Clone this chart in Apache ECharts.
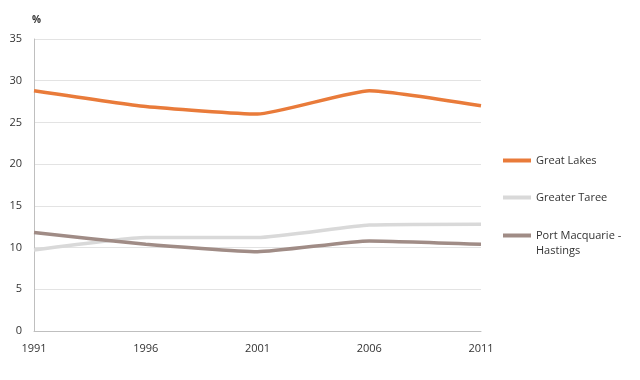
<!DOCTYPE html>
<html><head><meta charset="utf-8">
<script src="https://cdn.jsdelivr.net/npm/echarts@6/dist/echarts.min.js"></script>
<style>html,body{margin:0;padding:0;background:#fff}#c{width:640px;height:380px}</style>
</head><body><div id="c"></div>
<script>
const years = ['1991','1996','2001','2006','2011'];
const greatLakes = [28.8, 26.9, 26.0, 28.8, 27.0];
const greaterTaree = [9.7, 11.2, 11.2, 12.7, 12.8];
const portMacquarie = [11.8, 10.4, 9.5, 10.8, 10.4];
const seriesNames = ['Great Lakes', 'Greater Taree', 'Port Macquarie - Hastings'];
const colors = ['#E97B3A', '#D9D9D9', '#A08C86'];

const font = 'Open Sans';
const txt = '#333333';
const chart = echarts.init(document.getElementById('c'));
const mkLegend = (i, top, extra) => Object.assign({
  data: [seriesNames[i]], left: 498, top: top, orient: 'vertical',
  icon: 'rect', itemWidth: 28, itemHeight: 4, itemGap: 2,
  textStyle: { fontFamily: font, fontSize: 11, color: txt }
}, extra || {});
chart.setOption({
  animation: false,
  color: colors,
  legend: [
    mkLegend(0, 150),
    mkLegend(1, 187),
    mkLegend(2, 208, { formatter: ' \nPort Macquarie -\nHastings', textStyle: { fontFamily: font, fontSize: 11, color: txt, lineHeight: 15 } })
  ],
  grid: { left: 34, right: 159, top: 39, bottom: 49 },
  xAxis: {
    type: 'category', data: years, boundaryGap: false,
    axisLine: { lineStyle: { color: '#BFBFBF' } },
    axisTick: { show: false },
    axisLabel: { fontFamily: font, fontSize: 11, color: txt, margin: 12 }
  },
  yAxis: {
    type: 'value', min: 0, max: 35, interval: 5,
    name: '%', nameLocation: 'end', nameGap: 14,
    nameTextStyle: { fontFamily: font, fontSize: 10, fontWeight: 'bold', color: txt, align: 'left', padding: [0,0,0,-2] },
    axisLine: { show: true, lineStyle: { color: '#BFBFBF' } },
    axisTick: { show: false },
    splitLine: { lineStyle: { color: '#E3E3E3' } },
    axisLabel: { fontFamily: font, fontSize: 11, color: txt, margin: 12 }
  },
  series: [
    { name: seriesNames[0], type: 'line', data: greatLakes, smooth: 0.15, showSymbol: false, lineStyle: { width: 3.5 } },
    { name: seriesNames[1], type: 'line', data: greaterTaree, smooth: 0.15, showSymbol: false, lineStyle: { width: 3.5 } },
    { name: seriesNames[2], type: 'line', data: portMacquarie, smooth: 0.15, showSymbol: false, lineStyle: { width: 3.5 } }
  ]
});
</script></body></html>
